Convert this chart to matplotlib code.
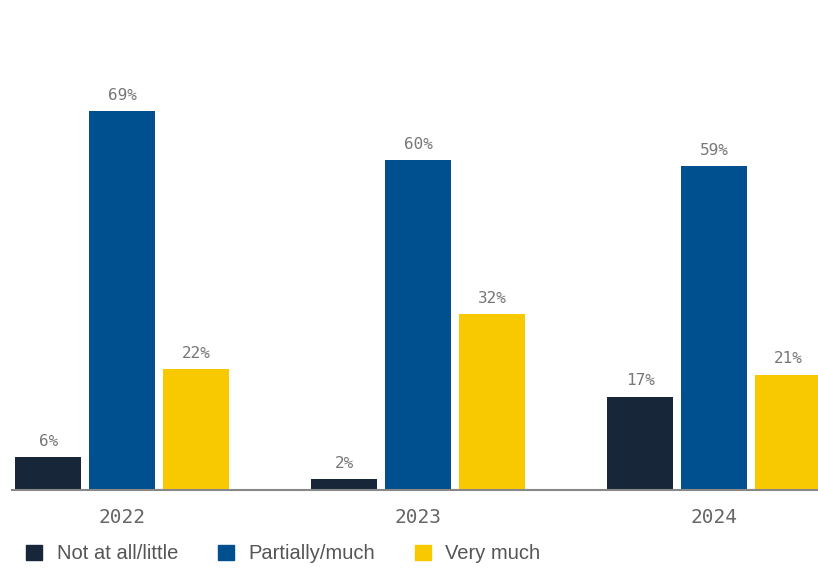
import matplotlib.pyplot as plt
from matplotlib.patches import Patch
import numpy as np

# data per tahun
years = ["2022", "2023", "2024"]
series = ["Not at all/little", "Partially/much", "Very much"]
not_at_all = [6, 2, 17]
partially = [69, 60, 59]
very_much = [22, 32, 21]
colors = ["#172639", "#00508f", "#f9c900"]

fig = plt.figure(figsize=(8.18, 5.74), dpi=100)
ax = fig.add_axes([0.0147, 0.1463, 0.9853, 0.8537])

x = np.arange(len(years))
width = 0.223
offsets = [-0.25, 0, 0.25]
values = [not_at_all, partially, very_much]

for vals, off, col in zip(values, offsets, colors):
    bars = ax.bar(x + off, vals, width, color=col, zorder=2)
    for b, v in zip(bars, vals):
        ax.text(b.get_x() + b.get_width() / 2, v + 1.5, f"{v}%",
                ha="center", va="bottom", fontsize=11.5,
                family="DejaVu Sans Mono", color="#777777")

ax.set_xlim(-0.372, 2.351)
ax.set_ylim(0, 89.2)
ax.set_xticks(x)
ax.set_xticklabels(years, family="DejaVu Sans Mono", fontsize=14, color="#666666")
ax.tick_params(axis="x", length=0, pad=13)
ax.set_yticks([])
for s in ["top", "right", "left"]:
    ax.spines[s].set_visible(False)
ax.spines["bottom"].set_color("#888888")
ax.spines["bottom"].set_linewidth(1.5)

# legenda di bawah
handles = [Patch(color=c, label=l) for c, l in zip(colors, series)]
fig.legend(handles=handles, loc="center left", bbox_to_anchor=(0.01, 0.035),
           ncol=3, frameon=False, handlelength=0.8, handleheight=0.8,
           handletextpad=0.7, columnspacing=2.0,
           prop={"family": "Liberation Sans", "size": 14.5}, labelcolor="#555555")

plt.savefig("out.png", dpi=100)
